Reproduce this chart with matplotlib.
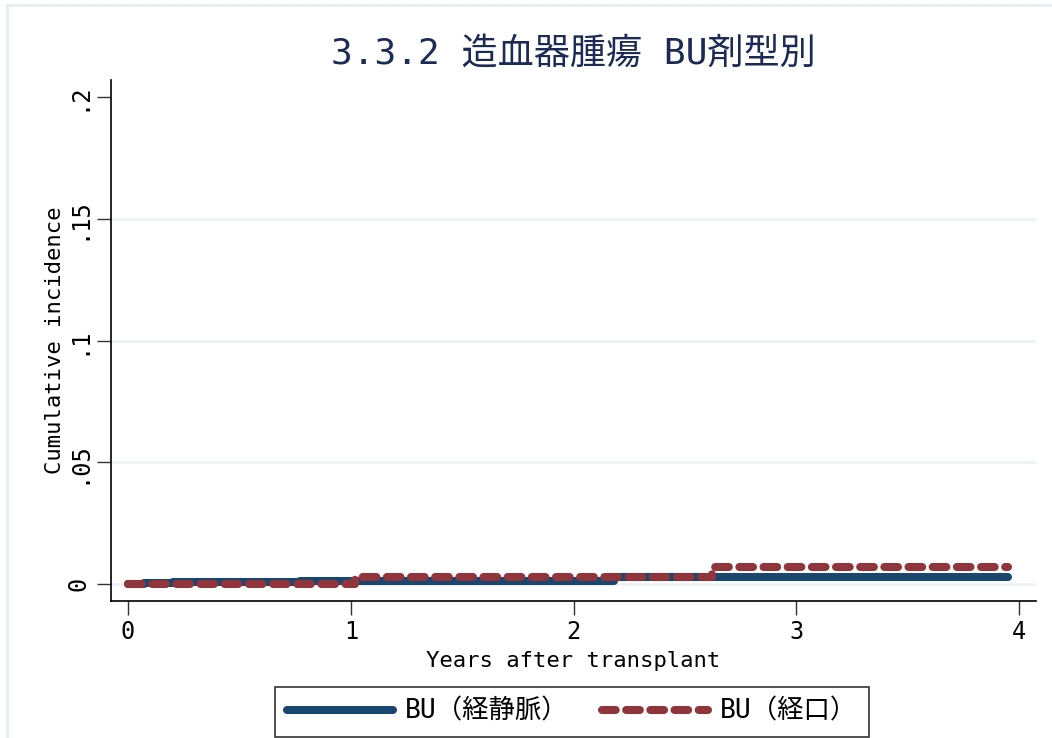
import numpy as np
import matplotlib
matplotlib.use("Agg")
import matplotlib.pyplot as plt
from matplotlib.patches import Rectangle

# step data (years, cumulative incidence)
iv_years = [0, 0.07, 0.2, 0.77, 2.18, 3.95]
iv_ci = [0, 0.0004, 0.0009, 0.0014, 0.0027, 0.0027]
oral_years = [0, 1.02, 2.62, 3.95]
oral_ci = [0, 0.0027, 0.0068, 0.0068]

labels = ['BU（経静脈）', 'BU（経口）']
xticks = [0, 1, 2, 3, 4]
yticks = [0, 0.05, 0.1, 0.15, 0.2]
ytick_labels = ['0', '.05', '.1', '.15', '.2']

mono = ['DejaVu Sans Mono', 'Noto Sans CJK JP']
plt.rcParams['font.family'] = mono

fig = plt.figure(figsize=(10.52, 7.38), dpi=100)
fig.patches.append(Rectangle((7/1052, -0.05), 1.1, 1 - 5/738 + 0.05, transform=fig.transFigure,
                             fill=False, edgecolor='#E4EEF2', lw=2))

ax = fig.add_axes([111/1052, 1-601/738, (1036-111)/1052, (601-80)/738])
ax.set_xlim(-0.0763, 4.076)
ax.set_ylim(-0.00698, 0.207)

l1, = ax.step(iv_years, iv_ci, where='post', color='#1A476F', lw=5.8,
              solid_capstyle='round', label=labels[0], zorder=3)
l2, = ax.step(oral_years, oral_ci, where='post', color='#90353B', lw=5.8,
              dash_capstyle='round', label=labels[1], zorder=4)
l2.set_dashes([1.7, 1.3])

ax.set_xticks(xticks)
ax.set_yticks(yticks)
ax.set_yticklabels(ytick_labels, rotation=90, va='center')
ax.tick_params(axis='both', length=10, width=1, color='#333333', labelsize=17)
ax.tick_params(axis='y', pad=5)
ax.tick_params(axis='x', pad=4)
ax.grid(axis='y', color='#EAF2F3', lw=1.8, zorder=0)
ax.yaxis.get_gridlines()[-1].set_visible(False)
for s in ['top', 'right']:
    ax.spines[s].set_visible(False)
for s in ['left', 'bottom']:
    ax.spines[s].set_linewidth(1.2)

ax.set_xlabel('Years after transplant', fontsize=16, labelpad=5)
ax.set_ylabel('Cumulative incidence', fontsize=16, labelpad=1)

fig.text(573/1052, 1-54/738, '3.3.2 造血器腫瘍 BU剤型別', fontsize=26, color='#1C2B56',
         ha='center', va='center')

leg = fig.legend(handles=[l1, l2], labels=labels, loc='upper center', ncol=2,
                 bbox_to_anchor=(572/1052, 1-687/738), fontsize=19, frameon=True,
                 fancybox=False, edgecolor='black', handlelength=4.0, handletextpad=0.45,
                 columnspacing=1.3, borderpad=0.45, borderaxespad=0)
leg.get_frame().set_linewidth(1.2)

fig.savefig('out.png', dpi=100)
